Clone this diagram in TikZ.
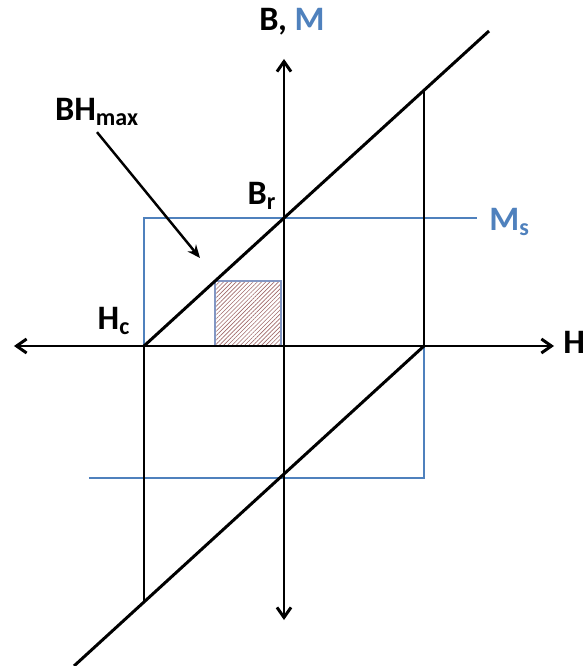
\documentclass[tikz,border=0pt]{standalone}
\usepackage{fontspec}
\setmainfont{Carlito}
\usepackage{tikz}
\usetikzlibrary{arrows.meta, patterns.meta}
\definecolor{satblue}{RGB}{79,129,189}
\definecolor{hatchred}{RGB}{160,105,105}
\definecolor{edgeblue}{RGB}{130,150,195}

\begin{document}
\begin{tikzpicture}[
  x=0.2cm, y=0.2cm,
  font=\fontsize{19.5}{22}\selectfont\bfseries,
  axis/.style={line width=1.7pt, {Straight Barb[length=2mm,width=2.8mm]}-{Straight Barb[length=2mm,width=2.8mm]}},
  loopline/.style={line width=1.7pt},
  satline/.style={line width=1.4pt, color=satblue},
  pointer/.style={-{Stealth[length=2.6mm,width=2.2mm]}, line width=1.4pt},
  area/.style={pattern={Lines[angle=45,distance=1.7pt,line width=0.35pt]}, pattern color=hatchred, draw=edgeblue, line width=0.6pt}
]
  \useasboundingbox (-28.4,-32) rectangle (30.4,34.6);

  % key points of the loop
  \coordinate (o) at (0,0);
  \coordinate (hc) at (-14,0);
  \coordinate (hcr) at (14,0);
  \coordinate (br) at (0,12.8);
  \coordinate (brn) at (0,-12.8);
  \coordinate (topend) at (20.5,31.5);
  \coordinate (botend) at (-21,-32);
  \coordinate (rtop) at (14,25.6);
  \coordinate (lbot) at (-14,-25.6);

  % BH max square
  \draw[area] (-6.9,0) rectangle (-0.3,6.5);

  % saturation magnetisation
  \draw[satline] (hc) -- (-14,12.8) -- (19.3,12.8);
  \draw[satline] (-19.5,-13.2) -- (14,-13.2) -- (hcr);

  % axes
  \draw[axis] (-27,0) -- (27,0);
  \draw[axis] (0,-27.4) -- (0,28.7);

  % loop
  \draw[loopline] (hc) -- (br) -- (topend);
  \draw[loopline] (botend) -- (brn) -- (hcr);
  \draw[loopline] (rtop) -- (hcr);
  \draw[loopline] (hc) -- (lbot);

  % labels
  \node (bm) at (0.8,32.4) {B, \textcolor{satblue}{M}};
  \node[anchor=west, inner sep=0pt] (hlabel) at (27.9,0.4) {H};
  \node (brlabel) at (-2.2,15) {B\textsubscript{r}};
  \node (hclabel) at (-17,2.5) {H\textsubscript{c}};
  \node[anchor=west, inner sep=0pt, text=satblue] (mslabel) at (20.5,12.4) {M\textsubscript{s}};
  \node (bhmax) at (-18.7,23.4) {BH\textsubscript{max}};
  \coordinate (tip) at (-8.4,8.8);
  \draw[pointer] (bhmax.south) -- (tip);
\end{tikzpicture}
\end{document}
